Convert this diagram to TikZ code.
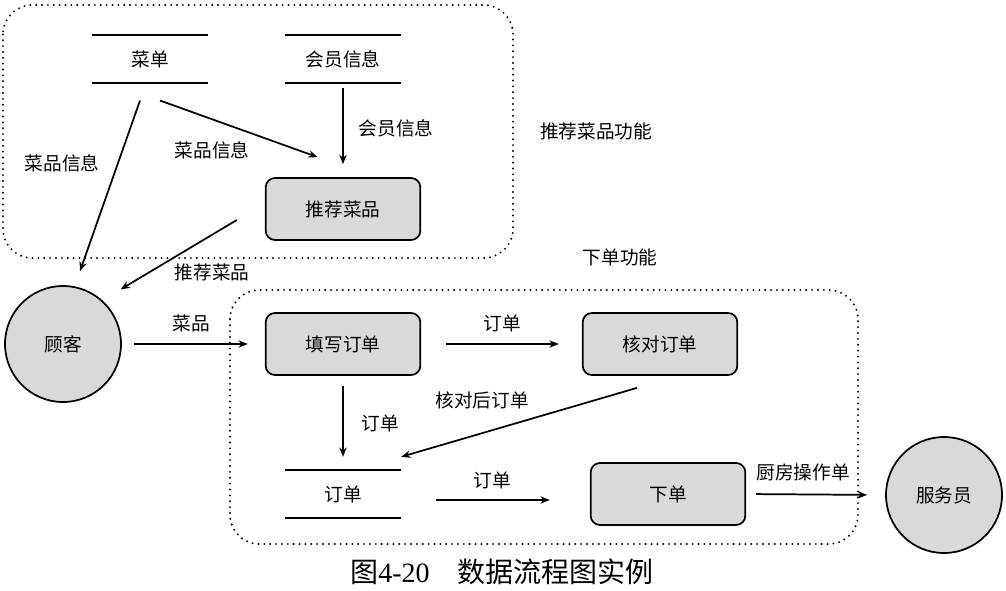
\documentclass[tikz,border=0pt]{standalone}
\usepackage{fontspec}
\setmainfont{Noto Sans CJK SC}
\newfontfamily\capfont{Liberation Serif}
\usetikzlibrary{arrows.meta}
\definecolor{boxgray}{HTML}{D9D9D9}

\begin{document}
\begin{tikzpicture}[x=0.75pt,y=-0.75pt,line width=1.3pt,font=\fontsize{14}{16}\selectfont,
  proc/.style={draw,fill=boxgray,rounded corners=7pt,minimum width=116pt,minimum height=46.5pt},
  ext/.style={draw,circle,fill=boxgray,minimum size=87pt,inner sep=0pt},
  store/.style={minimum width=86pt,minimum height=35pt},
  flow/.style={-{Stealth[length=7pt,width=5.5pt]}},
  area/.style={dash pattern=on 0pt off 4.4pt,line cap=round,line width=1.6pt,rounded corners=22pt}]
\useasboundingbox (0,0) rectangle (1006,590);
% functional areas
\draw[area] (3,5) rectangle (513,258);
\draw[area] (230,290) rectangle (858,544);
\node (areaA) at (596,131) {推荐菜品功能};
\node (areaB) at (620,257) {下单功能};
% data stores
\node[store] (menu) at (150,59) {菜单};
\node[store] (member) at (343,59) {会员信息};
\node[store] (order) at (343,494) {订单};
\draw (menu.north west)--(menu.north east) (menu.south west)--(menu.south east);
\draw (member.north west)--(member.north east) (member.south west)--(member.south east);
\draw (order.north west)--(order.north east) (order.south west)--(order.south east);
% processes and entities
\node[proc] (rec) at (343,209) {推荐菜品};
\node[proc] (fill) at (343,344) {填写订单};
\node[proc] (check) at (660,344) {核对订单};
\node[proc] (place) at (668,494) {下单};
\node[ext] (cust) at (63,344) {顾客};
\node[ext] (waiter) at (944,495) {服务员};
% flows
\draw[flow,shorten <=3.4pt,shorten >=9.75pt] (member.south)--(rec.north);
\node (l1) at (396,128) {会员信息};
\draw[flow] ([xshift=7.5pt,yshift=-13pt]menu.south)--([xshift=-19pt,yshift=15pt]rec.north);
\node (l2) at (212,150) {菜品信息};
\draw[flow] ([xshift=-7.5pt,yshift=-13pt]menu.south)--([xshift=12.75pt,yshift=10.5pt]cust.north);
\node (l3) at (62,163) {菜品信息};
\draw[flow] ([xshift=-21pt,yshift=-8.25pt]rec.west)--([xshift=12pt,yshift=9.75pt]cust.north east);
\node (l4) at (212,272) {推荐菜品};
\draw[flow,shorten <=9pt,shorten >=12.75pt] (cust.east)--(fill.west);
\node (l5) at (191,323) {菜品};
\draw[flow,shorten <=18.75pt,shorten >=17.25pt] (fill.east)--(check.west);
\node (l6) at (502,323) {订单};
\draw[flow,shorten <=7.5pt,shorten >=9.75pt] (fill.south)--(order.north);
\node (l7) at (380,423) {订单};
\draw[flow] ([xshift=-17.25pt,yshift=-9pt]check.south)--([yshift=9.75pt]order.north east);
\node (l8) at (482,400) {核对后订单};
\draw[flow] ([xshift=26pt,yshift=-4.5pt]order.east)--([xshift=-30pt,yshift=-4.5pt]place.west);
\node (l9) at (492,480) {订单};
\draw[flow,shorten <=7.5pt,shorten >=13.5pt] (place.east)--(waiter.west);
\node (l10) at (803,472) {厨房操作单};
% caption
\node (cap) at (502,572) {\fontsize{21}{24}\selectfont 图{\capfont 4-20}\quad 数据流程图实例};
\end{tikzpicture}
\end{document}
